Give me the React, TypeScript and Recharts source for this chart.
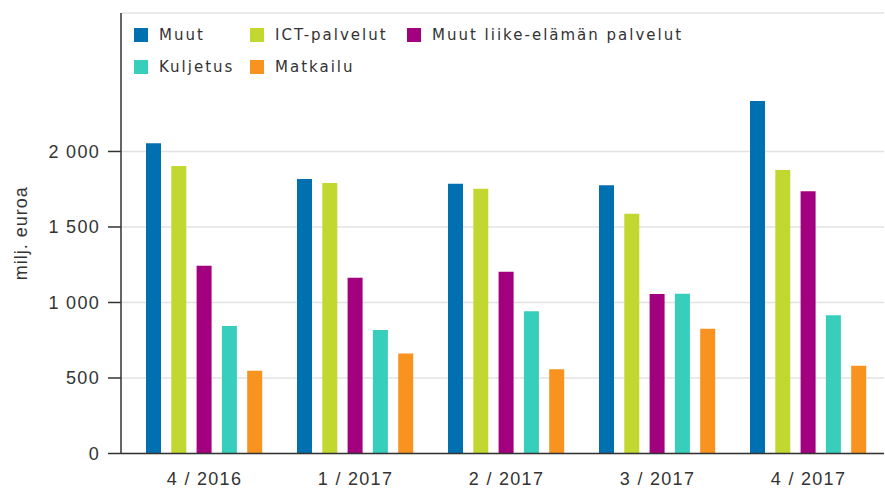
import { BarChart, Bar, XAxis, YAxis, CartesianGrid, Legend, Label } from 'recharts';

const QUARTERS = ['4 / 2016', '1 / 2017', '2 / 2017', '3 / 2017', '4 / 2017'];

const MUUT = [2054, 1818, 1787, 1776, 2334];
const ICT = [1904, 1791, 1754, 1588, 1877];
const LIIKE = [1244, 1164, 1204, 1056, 1736];
const KULJETUS = [844, 818, 942, 1058, 915];
const MATKAILU = [548, 663, 558, 826, 581];

const Y_TICKS = [0, 500, 1000, 1500, 2000];

const SERIES = [
  { key: 'muut', name: 'Muut', color: '#0070b0', values: MUUT },
  { key: 'ict', name: 'ICT-palvelut', color: '#c2d72f', values: ICT },
  { key: 'liike', name: 'Muut liike-elämän palvelut', color: '#a3007f', values: LIIKE },
  { key: 'kuljetus', name: 'Kuljetus', color: '#37cfbb', values: KULJETUS },
  { key: 'matkailu', name: 'Matkailu', color: '#f7931e', values: MATKAILU },
];

const data = QUARTERS.map((q, i) => {
  const row: Record<string, string | number> = { quarter: q };
  SERIES.forEach((s) => {
    row[s.key] = s.values[i];
  });
  return row;
});

const fmt = (v: number) => String(v).replace(/\B(?=(\d{3})+(?!\d))/g, ' ');

// legend keeps series order (recharts sorts payload by name otherwise)
function LegendBox() {
  return (
    <div
      style={{
        display: 'grid',
        gridTemplateColumns: '116px 157px auto',
        gridAutoRows: '32px',
        fontFamily: '"DejaVu Sans", sans-serif',
        fontSize: 15,
        letterSpacing: 2,
        color: '#333',
      }}
    >
      {SERIES.map((s) => (
        <div key={s.key} style={{ display: 'flex', alignItems: 'center', whiteSpace: 'nowrap' }}>
          <span style={{ width: 14, height: 14, background: s.color, marginRight: 11, flexShrink: 0 }} />
          <span>{s.name}</span>
        </div>
      ))}
    </div>
  );
}

export default function App() {
  const tickStyle = { fontFamily: '"Liberation Sans", Arial, sans-serif', fontSize: 18, fill: '#333', letterSpacing: 1.3 };
  return (
    <div style={{ position: 'absolute', left: 0, top: 0, width: 885, height: 489, background: '#fff' }}>
      <BarChart
        width={885}
        height={489}
        data={data}
        margin={{ top: 13, right: 1, bottom: 5.5, left: 0 }}
        barSize={15}
        barGap={10.3}
      >
        <CartesianGrid vertical={false} stroke="#e3e3e3" strokeWidth={1.5} />
        <XAxis
          dataKey="quarter"
          height={30}
          padding={{ left: 8, right: 0 }}
          tickLine={false}
          tickSize={0}
          tickMargin={19}
          axisLine={{ stroke: '#333', strokeWidth: 1.5 }}
          tick={tickStyle}
          interval={0}
        />
        <YAxis
          width={121}
          domain={[0, 2917]}
          ticks={Y_TICKS}
          allowDataOverflow
          tickFormatter={fmt}
          tickSize={13}
          tickMargin={8}
          tickLine={{ stroke: '#333', strokeWidth: 1.5 }}
          axisLine={{ stroke: '#333', strokeWidth: 1.5 }}
          tick={tickStyle}
        >
          <Label
            value="milj. euroa"
            angle={-90}
            position="center"
            dx={-40}
            style={{ fontFamily: '"Liberation Sans", Arial, sans-serif', fontSize: 18, fill: '#333', letterSpacing: 1 }}
          />
        </YAxis>
        <Legend
          layout="horizontal"
          verticalAlign="middle"
          align="center"
          wrapperStyle={{ left: 134, top: 19, width: 560 }}
          content={<LegendBox />}
        />
        {SERIES.map((s) => (
          <Bar key={s.key} dataKey={s.key} name={s.name} fill={s.color} isAnimationActive={false} />
        ))}
      </BarChart>
    </div>
  );
}
